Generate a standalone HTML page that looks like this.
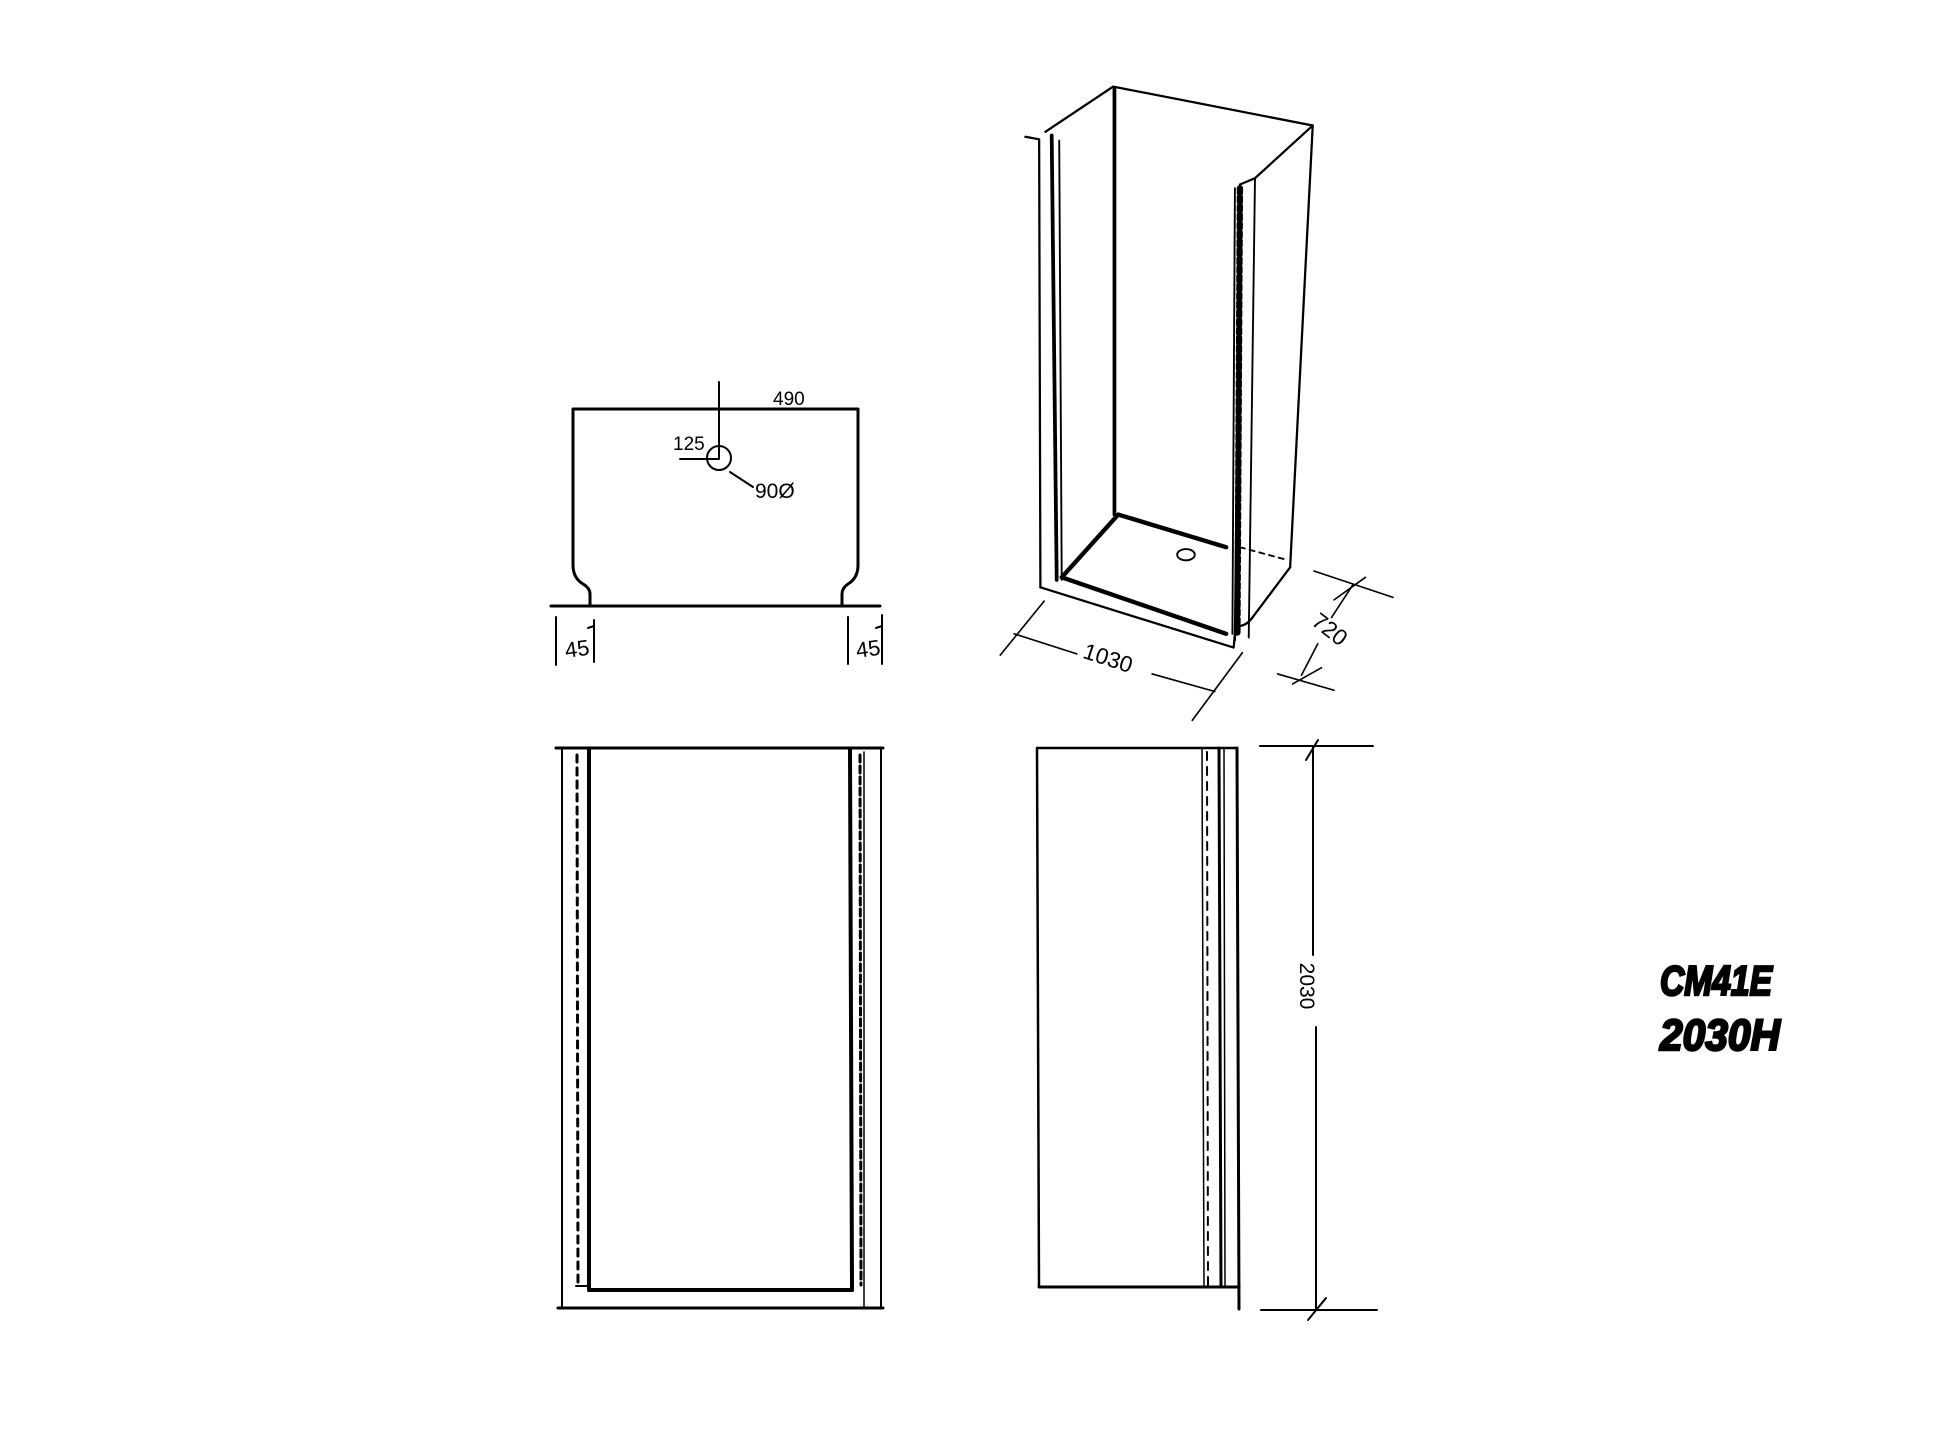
<!DOCTYPE html>
<html><head><meta charset="utf-8"><style>
html,body{margin:0;padding:0;background:#fff;}
svg{display:block}
text{font-family:"Liberation Sans",sans-serif;fill:#000}
</style></head><body>
<svg width="1946" height="1439" viewBox="0 0 1946 1439" xmlns="http://www.w3.org/2000/svg">
<g fill="none" stroke="#000" stroke-linecap="round" stroke-linejoin="round">
<!-- Plan view -->
<path d="M590 606 L590 594 Q590 588 583 584 Q573 578 573 565 L573 409 L858 409 L858 565 Q858 578 848 584 Q842 588 842 594 L842 606" stroke-width="3"/>
<line x1="551" y1="606" x2="880" y2="606" stroke-width="3"/>
<circle cx="719" cy="458" r="12" stroke-width="2"/>
<line x1="719" y1="382" x2="719" y2="458" stroke-width="2"/>
<line x1="680" y1="459" x2="719" y2="459" stroke-width="2"/>
<line x1="730" y1="472" x2="753" y2="487" stroke-width="2"/>
<line x1="556" y1="617" x2="556" y2="665" stroke-width="2"/>
<line x1="594" y1="620" x2="594" y2="662" stroke-width="2"/>
<line x1="588" y1="628" x2="594" y2="626" stroke-width="2"/>
<line x1="848" y1="617" x2="848" y2="664" stroke-width="2"/>
<line x1="882" y1="615" x2="882" y2="664" stroke-width="2"/>
<line x1="876" y1="628" x2="882" y2="626" stroke-width="2"/>

<!-- Front view -->
<line x1="556" y1="748" x2="883" y2="748" stroke-width="3"/>
<line x1="562" y1="748" x2="562" y2="1308" stroke-width="2"/>
<line x1="881" y1="748" x2="881" y2="1308" stroke-width="2"/>
<line x1="558" y1="1308" x2="883" y2="1308" stroke-width="3"/>
<line x1="589" y1="750" x2="589" y2="1290" stroke-width="4"/>
<line x1="850" y1="750" x2="852" y2="1290" stroke-width="4"/>
<line x1="589" y1="1290" x2="852" y2="1290" stroke-width="4"/>
<line x1="577" y1="755" x2="578" y2="1285" stroke-width="3" stroke-dasharray="7 6"/>
<line x1="860" y1="755" x2="861" y2="1285" stroke-width="3" stroke-dasharray="7 4"/>
<line x1="864" y1="752" x2="864" y2="1308" stroke-width="1.5"/>
<line x1="576" y1="1286" x2="590" y2="1286" stroke-width="2"/>

<!-- Side view -->
<line x1="1037" y1="748" x2="1237" y2="748" stroke-width="2.5"/>
<line x1="1037" y1="748" x2="1039" y2="1287" stroke-width="2.5"/>
<line x1="1039" y1="1287" x2="1239" y2="1287" stroke-width="3"/>
<line x1="1202" y1="748" x2="1204" y2="1287" stroke-width="1.5"/>
<line x1="1207" y1="752" x2="1208" y2="1285" stroke-width="2" stroke-dasharray="8 7"/>
<line x1="1219" y1="748" x2="1221" y2="1287" stroke-width="3"/>
<line x1="1224" y1="748" x2="1225" y2="1287" stroke-width="1.5"/>
<line x1="1237" y1="748" x2="1239" y2="1309" stroke-width="3"/>
<!-- 2030 dim -->
<line x1="1260" y1="746" x2="1373" y2="746" stroke-width="2"/>
<line x1="1261" y1="1310" x2="1377" y2="1310" stroke-width="2"/>
<line x1="1313" y1="746" x2="1313" y2="955" stroke-width="2"/>
<line x1="1316" y1="1027" x2="1316" y2="1310" stroke-width="2"/>
<line x1="1306" y1="760" x2="1318" y2="740" stroke-width="2"/>
<line x1="1308" y1="1320" x2="1326" y2="1298" stroke-width="2"/>

<!-- Isometric (display coords scaled) -->
<g transform="scale(1.255)">
<path d="M817 109 L828 111 L829 468" stroke-width="1.8"/>
<path d="M833 105 L887 69 L1046 100 L1028 452" stroke-width="1.8"/>
<line x1="838" y1="108" x2="842" y2="462" stroke-width="3"/>
<line x1="844" y1="112" x2="846" y2="462" stroke-width="1.5"/>
<line x1="888" y1="70" x2="888" y2="410" stroke-width="3"/>
<path d="M1046 100 L1000 142 L988 147 L984 510" stroke-width="1.8"/>
<line x1="1000" y1="142" x2="995" y2="508" stroke-width="1.5"/>
<line x1="988" y1="150" x2="986" y2="505" stroke-width="5" stroke-dasharray="4 3"/>
<line x1="984" y1="150" x2="982" y2="505" stroke-width="1.5"/>
<path d="M891 410 L977 436 M891 410 L846 460 L977 505" stroke-width="3.5"/>
<path d="M829 468 L983 516 L984 505" stroke-width="1.8"/>
<path d="M1028 452 L998 492 Q993 499 986 499" stroke-width="1.8"/>
<ellipse cx="945" cy="442" rx="7" ry="4.5" stroke-width="1.5"/>
<line x1="988" y1="436" x2="1025" y2="446" stroke-width="1.5" stroke-dasharray="4 4"/>
<!-- 1030 -->
<line x1="797" y1="522" x2="832" y2="479" stroke-width="1.3"/>
<line x1="950" y1="574" x2="990" y2="520" stroke-width="1.3"/>
<line x1="808" y1="505" x2="858" y2="521" stroke-width="1.3"/>
<line x1="918" y1="537" x2="968" y2="551" stroke-width="1.3"/>
<!-- 720 -->
<line x1="1047" y1="455" x2="1110" y2="476" stroke-width="1.3"/>
<line x1="1018" y1="537" x2="1063" y2="550" stroke-width="1.3"/>
<line x1="1078" y1="466" x2="1061" y2="492" stroke-width="1.3"/>
<line x1="1050" y1="513" x2="1037" y2="538" stroke-width="1.3"/>
<line x1="1063" y1="478" x2="1088" y2="460" stroke-width="1.3"/>
<line x1="1030" y1="545" x2="1053" y2="532" stroke-width="1.3"/>
</g>
</g>

<text x="773" y="405" font-size="19">490</text>
<text x="673" y="450" font-size="19">125</text>
<text x="755" y="498" font-size="21">90Ø</text>
<text x="566" y="658" font-size="22" transform="rotate(-8 566 658)">45</text>
<text x="857" y="658" font-size="22" transform="rotate(-8 857 658)">45</text>
<text x="0" y="0" font-size="21" transform="translate(1300,986) rotate(90)" text-anchor="middle">2030</text>
<g transform="scale(1.255)">
<text x="0" y="0" font-size="18" transform="translate(862,524) rotate(18)">1030</text>
<text x="0" y="0" font-size="18" transform="translate(1044,497) rotate(38)">720</text>
</g>
<text x="1660" y="995" font-size="42" font-weight="bold" font-style="italic" textLength="112" lengthAdjust="spacingAndGlyphs" stroke="#000" stroke-width="2.5">CM41E</text>
<text x="1660" y="1050" font-size="44" font-weight="bold" font-style="italic" textLength="120" lengthAdjust="spacingAndGlyphs" stroke="#000" stroke-width="2.5">2030H</text>
</svg>
</body></html>
